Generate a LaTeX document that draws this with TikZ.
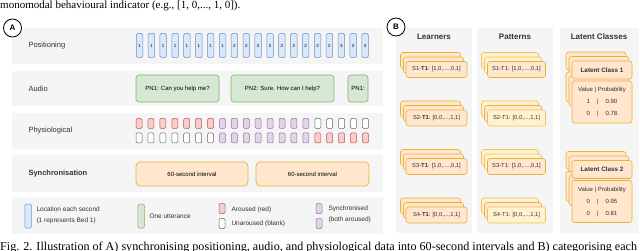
\documentclass[tikz,border=0pt]{standalone}
\usepackage{fontspec}
\setmainfont{Liberation Sans}
\newfontfamily\captionfont{Liberation Serif}
\definecolor{rowgrey}{HTML}{F5F5F5}
\definecolor{labelgrey}{HTML}{333333}
\definecolor{bluefill}{HTML}{DAE8FC}
\definecolor{blueline}{HTML}{6C8EBF}
\definecolor{greenfill}{HTML}{D5E8D4}
\definecolor{greenline}{HTML}{82B366}
\definecolor{redfill}{HTML}{F8CECC}
\definecolor{redline}{HTML}{B85450}
\definecolor{purplefill}{HTML}{E1D5E7}
\definecolor{purpleline}{HTML}{9673A6}
\definecolor{greyline}{HTML}{666666}
\definecolor{orangefill}{HTML}{FFE6CC}
\definecolor{orangeline}{HTML}{E8B23A}
\definecolor{yellowfill}{HTML}{FFF2CC}
\definecolor{yellowline}{HTML}{E6C463}
\tikzset{
  rowbg/.style={fill=rowgrey},
  cell/.style={draw, rounded corners=1.2pt, inner sep=0pt, line width=0.5pt},
  posbox/.style={cell, draw=blueline, fill=bluefill, minimum width=6.5pt, minimum height=24pt, font=\fontsize{4.5}{5}\selectfont},
  utter/.style={draw=greenline, fill=greenfill, rounded corners=3pt, minimum height=27pt, inner sep=1pt, line width=0.6pt, font=\fontsize{6}{7}\selectfont},
  physbox/.style={cell, minimum width=6pt, minimum height=10pt},
  aroused/.style={physbox, draw=redline, fill=redfill},
  unaroused/.style={physbox, draw=greyline, fill=white},
  synced/.style={physbox, draw=purpleline, fill=purplefill},
  interval/.style={draw=orangeline, fill=orangefill, rounded corners=4pt, minimum height=24pt, line width=0.7pt, font=\fontsize{6}{7}\selectfont},
  rowlabel/.style={anchor=west, text=labelgrey, font=\fontsize{7.5}{9}\selectfont},
  legendtext/.style={anchor=west, align=left, text=labelgrey, font=\fontsize{6.5}{11}\selectfont},
  panelmark/.style={circle, draw, fill=white, line width=0.8pt, minimum size=18pt, inner sep=0pt, font=\bfseries\fontsize{8}{9}\selectfont},
  coltitle/.style={text=labelgrey, font=\bfseries\fontsize{8}{10}\selectfont},
  card/.style={draw=orangeline, fill=orangefill, rounded corners=2.5pt, minimum width=60pt, minimum height=16pt, inner sep=1pt, line width=0.6pt, text=labelgrey, font=\fontsize{5.8}{7}\selectfont},
  palecard/.style={card, draw=yellowline, fill=yellowfill},
  classtitle/.style={card, minimum height=18pt, font=\bfseries\fontsize{6.3}{7}\selectfont},
  classvalues/.style={card, minimum height=42pt, align=center, font=\fontsize{6}{12}\selectfont},
}
\begin{document}
\begin{tikzpicture}[x=1pt,y=-1pt]
\clip (0,0) rectangle (640,251);
\fill[white] (0,0) rectangle (640,251);

\node[anchor=base west, inner sep=0pt, font=\captionfont\fontsize{11}{13}\selectfont] (topline) at (0,9) {monomodal behavioural indicator (e.g., [1, 0,..., 1, 0]).};
\node[anchor=base west, inner sep=0pt, font=\captionfont\fontsize{12.1}{14}\selectfont] (caption) at (0,250) {Fig. 2. Illustration of A) synchronising positioning, audio, and physiological data into 60-second intervals and B) categorising each};

% panel A
\fill[rowbg] (12,28) rectangle (383,64);
\fill[rowbg] (12,71) rectangle (383,106);
\fill[rowbg] (12,113) rectangle (383,149);
\fill[rowbg] (12,155) rectangle (383,192);
\fill[rowbg] (12,197) rectangle (383,234);

\node[rowlabel] (poslabel) at (25,46) {Positioning};
\node[rowlabel] (audiolabel) at (25,89) {Audio};
\node[rowlabel] (physlabel) at (25,131) {Physiological};
\node[rowlabel, font=\bfseries\fontsize{7.5}{9}\selectfont] (synclabel) at (25,174) {Synchronisation};

\foreach \v [count=\i from 0] in {1,1,1,1,1,1,1,1,2,2,2,2,2,2,2,2,2,3,3,3}
  \node[posbox] (pos\i) at ({139.5+11.87*\i},45.5) {\v};

\node[utter, minimum width=83pt] (utt1) at (177.5,88.5) {PN1: Can you help me?};
\node[utter, minimum width=103pt] (utt2) at (282.5,88.5) {PN2: Sure. How can I help?};
\node[utter, minimum width=20pt] (utt3) at (358,88.5) {PN1:};

\foreach \s [count=\i from 0] in {aroused,aroused,aroused,aroused,aroused,aroused,aroused,synced,synced,synced,synced,synced,synced,synced,synced,unaroused,unaroused,unaroused,unaroused,unaroused}
  \node[\s] (physa\i) at ({139+11.92*\i},123.5) {};
\foreach \s [count=\i from 0] in {unaroused,unaroused,unaroused,unaroused,unaroused,unaroused,unaroused,synced,synced,synced,synced,synced,synced,synced,synced,aroused,aroused,aroused,aroused,aroused}
  \node[\s] (physb\i) at ({139+11.92*\i},138) {};

\node[interval, minimum width=112pt] (win1) at (192,174) {60-second interval};
\node[interval, minimum width=113pt] (win2) at (312.5,174) {60-second interval};

\node[posbox] (keypos) at (28,216) {};
\node[legendtext] (keypostext) at (33,215) {Location each second\\(1 represents Bed 1)};
\node[cell, draw=greenline, fill=greenfill, minimum width=6.5pt, minimum height=24pt] (keyutt) at (141,216) {};
\node[legendtext] (keyutttext) at (146,216.5) {One utterance};
\node[aroused] (keyred) at (222,208.5) {};
\node[legendtext] (keyredtext) at (228,209.5) {Aroused (red)};
\node[unaroused] (keyblank) at (222,223.5) {};
\node[legendtext] (keyblanktext) at (228,224) {Unaroused (blank)};
\node[synced] (keysynca) at (319,208.5) {};
\node[synced] (keysyncb) at (319,223.5) {};
\node[legendtext] (keysynctext) at (325,214.5) {Synchronised\\(both aroused)};

\node[panelmark] (marka) at (12.5,28) {A};

% panel B
\fill[rowbg] (396,28) rectangle (472,233);
\fill[rowbg] (477,28) rectangle (553,233);
\fill[rowbg] (560,28) rectangle (639,233);
\node[coltitle] (learners) at (434,37) {Learners};
\node[coltitle] (patterns) at (515,37) {Patterns};
\node[coltitle] (classes) at (599,37) {Latent Classes};

\foreach \s/\v [count=\k from 0] in {1/{[1,0,....,0,1]},2/{[0,0,...,1,1]},3/{[1,0,....,0,1]},4/{[0,0,...,1,1]}} {
  \node[card] (learner\s c) at (430.5,{60.5+48.5*\k}) {};
  \node[card] (learner\s b) at (433.5,{65+48.5*\k}) {};
  \node[card, minimum width=61pt] (learner\s) at (436.5,{69.5+48.5*\k}) {S\s-\textbf{T1}: \v};
}
\foreach \s/\v/\mid/\front [count=\k from 0] in {1/{[1,0,....,0,1]}/palecard/card,2/{[0,0,...,1,1]}/card/palecard,3/{[1,0,....,0,1]}/palecard/card,4/{[0,0,...,1,1]}/card/palecard} {
  \node[palecard, minimum width=57pt] (pattern\s c) at (510,{60.5+48.5*\k}) {};
  \node[\mid, minimum width=57pt] (pattern\s b) at (513,{65+48.5*\k}) {};
  \node[\front, minimum width=58pt] (pattern\s) at (516.5,{69.5+48.5*\k}) {S\s-T1: \v};
}

\foreach \c/\y/\va/\pa/\vb/\pb in {1/70/1/0.90/0/0.78,2/169.5/0/0.95/0/0.81} {
  \node[classtitle] (class\c c) at (596,{\y-9}) {};
  \node[classtitle] (class\c b) at (599,{\y-4.5}) {};
  \node[card, minimum height=30pt] (values\c c) at (596,{\y+17}) {};
  \node[card, minimum height=30pt] (values\c b) at (599,{\y+21}) {};
  \node[classtitle] (class\c) at (602,\y) {Latent Class \c};
  \node[classvalues] (values\c) at (602,{\y+32}) {Value | Probability\\\va\hspace{7pt}|\hspace{7pt}\pa\\\vb\hspace{7pt}|\hspace{7pt}\pb};
}

\node[panelmark] (markb) at (396,27) {B};
\end{tikzpicture}
\end{document}
